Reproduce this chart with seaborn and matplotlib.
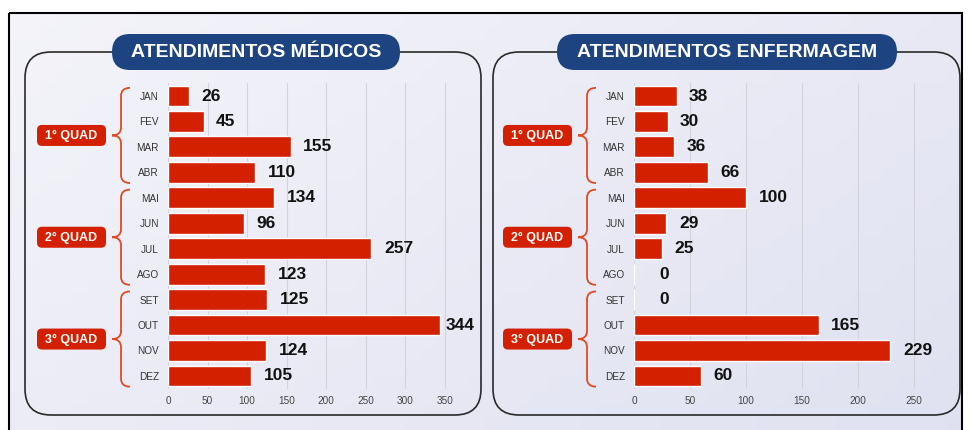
import numpy as np
import pandas as pd
import matplotlib.pyplot as plt
import seaborn as sns
from matplotlib.patches import FancyBboxPatch, PathPatch, Rectangle
from matplotlib.path import Path

meses = ['JAN', 'FEV', 'MAR', 'ABR', 'MAI', 'JUN', 'JUL', 'AGO', 'SET', 'OUT', 'NOV', 'DEZ']
medicos = [26, 45, 155, 110, 134, 96, 257, 123, 125, 344, 124, 105]
enfermagem = [38, 30, 36, 66, 100, 29, 25, 0, 0, 165, 229, 60]
quads = ['1° QUAD', '2° QUAD', '3° QUAD']
titulos = ['ATENDIMENTOS MÉDICOS', 'ATENDIMENTOS ENFERMAGEM']

sns.set_style('white')
plt.rcParams['font.family'] = ['Liberation Sans', 'DejaVu Sans']

RED = '#d22000'
BLUE = '#1d4380'
W, H = 971, 430

fig = plt.figure(figsize=(W / 100, H / 100), dpi=100)
fig.patch.set_facecolor('white')

# background layer in image pixel coords (y down)
bg = fig.add_axes([0, 0, 1, 1], zorder=0)
bg.set_xlim(0, W)
bg.set_ylim(H, 0)
bg.axis('off')

c1 = np.array([0.955, 0.955, 0.978])
c2 = np.array([0.880, 0.885, 0.945])
gx, gy = np.meshgrid(np.linspace(0, 1, 60), np.linspace(0, 1, 30))
t = (0.6 * gx + 0.4 * gy)[..., None]
grad = c1 * (1 - t) + c2 * t
bg.imshow(grad, extent=(9, 962, 432, 13), origin='upper', aspect='auto', zorder=0)
bg.add_patch(Rectangle((9, 13), 953, 420, fill=False, ec='black', lw=1.5, zorder=1))

# panels
for x0, w in [(25, 456), (493, 467)]:
    bg.add_patch(FancyBboxPatch((x0, 52), w, 363, boxstyle='round,pad=0,rounding_size=26',
                                fc='none', ec='#2a2a2a', lw=1.2, zorder=2))

pills = [(112, 288), (557, 340)]
for (px, pw), titulo in zip(pills, titulos):
    bg.add_patch(FancyBboxPatch((px, 34), pw, 36, boxstyle='round,pad=0,rounding_size=18',
                                fc=BLUE, ec='none', zorder=3))
    bg.text(px + pw / 2, 52.5, titulo, color='white', fontsize=14, fontweight='bold',
            ha='center', va='center', zorder=4)

# bar axes
row_px = 25.45
top_px = 96 - row_px / 2
ax_h = 12 * row_px
configs = [(medicos, 168, 0.7914, 362, range(0, 351, 50)),
           (enfermagem, 634, 1.12, 262, range(0, 251, 50))]

for vals, x0, scale, xmax, ticks in configs:
    ax = fig.add_axes([x0 / W, (H - top_px - ax_h) / H, xmax * scale / W, ax_h / H], zorder=2)
    ax.patch.set_alpha(0)
    df = pd.DataFrame({'mes': meses, 'valor': vals})
    sns.barplot(data=df, x='valor', y='mes', orient='h', color=RED, saturation=1,
                width=0.82, ax=ax, zorder=3)
    ax.set_xlim(0, xmax)
    ax.set_ylim(11.5, -0.5)
    ax.set_xticks(list(ticks))
    ax.set_xlabel('')
    ax.set_ylabel('')
    ax.grid(axis='x', color='#d3d3dc', lw=0.8)
    ax.set_axisbelow(True)
    sns.despine(ax=ax, left=True, bottom=True)
    ax.tick_params(axis='x', length=0, labelsize=7.2, labelcolor='#444444', pad=5)
    ax.tick_params(axis='y', length=0, labelsize=7.2, labelcolor='#333333', pad=6.5)
    labels = ax.bar_label(ax.containers[0], padding=9, fontsize=12.5, fontweight='bold',
                          color='#111111')
    for lab, v in zip(labels, vals):
        if v == 0:
            lab.set_x(lab.get_position()[0])
            lab.xyann = (18, 0)
        elif v / xmax > 0.9:
            lab.xyann = (4, 0)

    def row_y(r):
        return H - ax.transData.transform((0, r))[1]

    # braces and quadrimester labels
    for q, quad in enumerate(quads):
        y_top = row_y(4 * q - 0.32)
        y_bot = row_y(4 * q + 3 + 0.42)
        yc = (y_top + y_bot) / 2
        xa, xm, xt = x0 - 38, x0 - 47, x0 - 56
        r = 8
        verts = [(xa, y_top), (xm, y_top), (xm, y_top + r),
                 (xm, yc - r), (xm, yc), (xt, yc),
                 (xm, yc), (xm, yc + r),
                 (xm, y_bot - r), (xm, y_bot), (xa, y_bot)]
        codes = [Path.MOVETO, Path.CURVE3, Path.CURVE3,
                 Path.LINETO, Path.CURVE3, Path.CURVE3,
                 Path.CURVE3, Path.CURVE3,
                 Path.LINETO, Path.CURVE3, Path.CURVE3]
        bg.add_patch(PathPatch(Path(verts, codes), fc='none', ec='#e04a22', lw=1.3, zorder=3))
        bx = x0 - 96.5
        bg.add_patch(FancyBboxPatch((bx - 34.5, yc - 10.5), 69, 21,
                                    boxstyle='round,pad=0,rounding_size=5',
                                    fc=RED, ec='none', zorder=3))
        bg.text(bx, yc + 0.5, quad, color='white', fontsize=9, fontweight='bold',
                ha='center', va='center', zorder=4)

fig.savefig('out.png', dpi=100)
